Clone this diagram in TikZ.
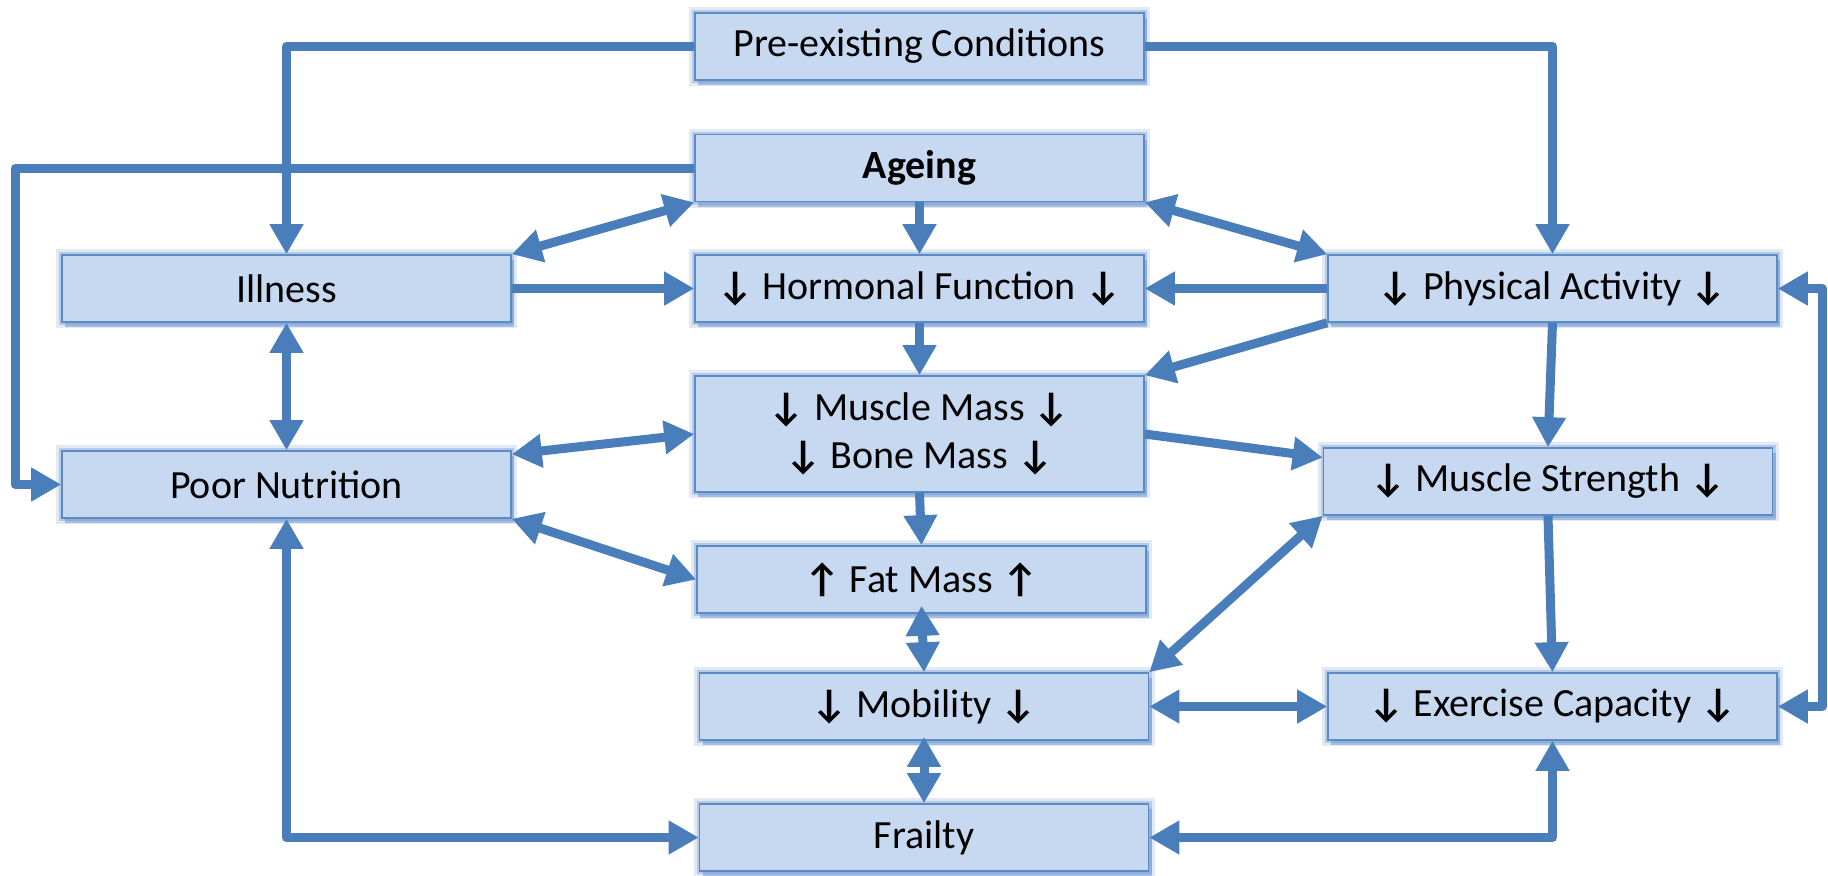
\documentclass[tikz,border=0pt]{standalone}
\usepackage{fontspec}
\setmainfont{Carlito}
\usetikzlibrary{positioning,arrows.meta,shadows}
\definecolor{boxfill}{HTML}{C6D9F1}
\definecolor{boxline}{HTML}{5B8BC7}
\definecolor{glowblue}{HTML}{6690CA}
\definecolor{linkblue}{HTML}{4A7EBB}
\newcommand{\dn}{\textbf{↓}}
\newcommand{\up}{\textbf{↑}}

\begin{document}
\begin{tikzpicture}[
    x=0.5pt, y=-0.5pt,
    box/.style={%
      draw=boxline,
      line width=0.8pt,
      fill=boxfill,
      rectangle,
      minimum width=224.5pt,
      minimum height=33.5pt,
      inner sep=0pt,
      align=center,
      font=\fontsize{20}{24}\selectfont,
      drop shadow={shadow xshift=1.5pt, shadow yshift=-2.5pt, fill=glowblue, opacity=0.5},
      preaction={draw=glowblue, line width=6pt, draw opacity=0.2},
      preaction={draw=glowblue, line width=3pt, draw opacity=0.35},
    },
    oneway/.style={%
      draw=linkblue,
      line width=4.5pt,
      line join=round,
      -{Triangle[length=15pt,width=16pt]},
    },
    twoway/.style={%
      oneway,
      {Triangle[length=15pt,width=16pt]}-{Triangle[length=15pt,width=16pt]},
    },
  ]

    \useasboundingbox (0,0) rectangle (1828,875);

    \node [box] (pre) at (919.5,46.5) {Pre-existing Conditions};
    \node [box] (age) at (919.5,168) {\textbf{Ageing}};
    \node [box] (horm) at (919.5,288.5) {\dn{} Hormonal Function \dn};
    \node [box,minimum height=58pt] (mass) at (919.5,434) {\dn{} Muscle Mass \dn\\\dn{} Bone Mass \dn};
    \node [box] (fat) at (921.5,579.5) {\up{} Fat Mass \up};
    \node [box] (mob) at (924,706.5) {\dn{} Mobility \dn};
    \node [box] (frail) at (924,837.5) {Frailty};
    \node [box] (ill) at (286.5,288.5) {Illness};
    \node [box] (nutr) at (286.5,484.5) {Poor Nutrition};
    \node [box] (pa) at (1552.5,288.5) {\dn{} Physical Activity \dn};
    \node [box] (ms) at (1548,481.5) {\dn{} Muscle Strength \dn};
    \node [box] (ec) at (1552.5,706.5) {\dn{} Exercise Capacity \dn};

    \coordinate (ageturn) at (15,168);
    \coordinate (loopturn) at (1822,288.5);

    % elbow connectors
    \draw [oneway] (pre.west) -| (ill.north);
    \draw [oneway] (pre.east) -| (pa.north);
    \draw [oneway] (age.west) -- (ageturn) |- (nutr.west);
    \draw [twoway] (nutr.south) |- (frail.west);
    \draw [twoway] (frail.east) -| (ec.south);
    \draw [twoway] (pa.east) -- (loopturn) |- (ec.east);

    % straight connectors
    \draw [twoway] (age.south west) -- (ill.north east);
    \draw [oneway] (age.south) -- (horm.north);
    \draw [twoway] (age.south east) -- (pa.north west);
    \draw [oneway] (ill.east) -- (horm.west);
    \draw [oneway] (pa.west) -- (horm.east);
    \draw [oneway] (pa.south west) -- (mass.north east);
    \draw [oneway] (horm.south) -- (mass.north);
    \draw [twoway] (ill.south) -- (nutr.north);
    \draw [twoway] (mass.west) -- ([yshift=-2pt]nutr.north east);
    \draw [oneway] (mass.east) -- ([yshift=12pt]ms.west);
    \draw [twoway] (nutr.south east) -- (fat.west);
    \draw [oneway] (mass.south) -- (fat.north);
    \draw [twoway] ([yshift=4pt]fat.south) -- (mob.north);
    \draw [twoway] ([yshift=2pt]mob.south) -- (frail.north);
    \draw [twoway] (mob.north east) -- (ms.south west);
    \draw [twoway] (mob.east) -- (ec.west);
    \draw [oneway] (pa.south) -- (ms.north);
    \draw [oneway] (ms.south) -- (ec.north);
\end{tikzpicture}
\end{document}
